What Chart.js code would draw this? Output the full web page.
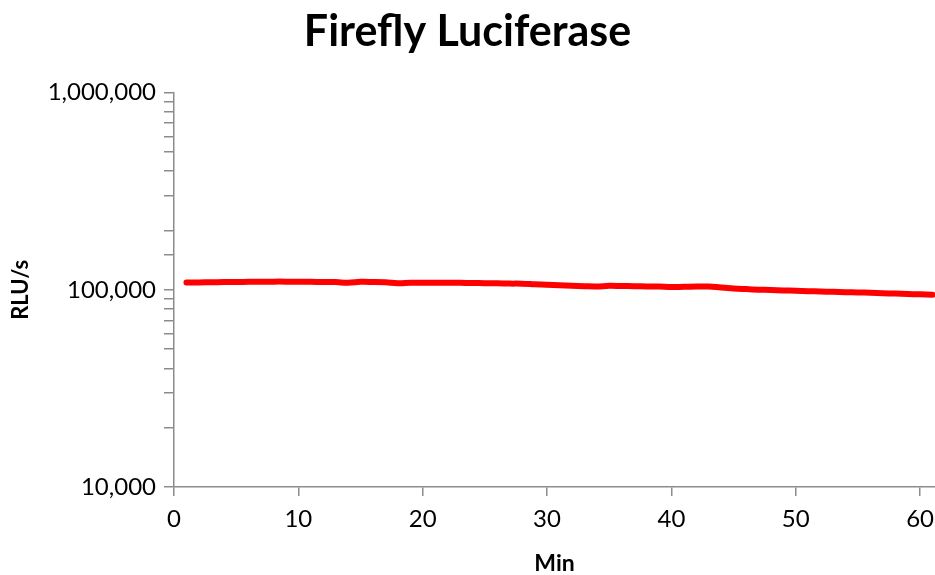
<!DOCTYPE html>
<html>
<head>
<meta charset="utf-8">
<script src="https://cdn.jsdelivr.net/npm/chart.js@4.4.1/dist/chart.umd.min.js"></script>
<style>
  html, body { margin: 0; padding: 0; background: #ffffff; }
  #wrap { width: 935px; height: 575px; }
</style>
</head>
<body>
<div id="wrap"><canvas id="c" width="935" height="575"></canvas></div>
<script>
// Data
const minutes = [];
for (let m = 1; m <= 61; m++) minutes.push(m);
const rluPerSec = [
  108900, 109000, 109200, 109400, 109500, 109700, 109800, 110000, 110000, 109800,
  109700, 109600, 109400, 108600, 109700, 109600, 109200, 108100, 108600, 108700,
  108700, 108600, 108500, 108300, 108000, 107800, 107500, 107400, 106700, 106000,
  105400, 104800, 104300, 104000, 104700, 104500, 104300, 104000, 103800, 103300,
  103500, 103800, 104000, 102600, 101500, 100800, 100200, 99700, 99300, 98800,
  98400, 98000, 97700, 97300, 96900, 96600, 96100, 95700, 95200, 94800,
  94300
];
const xTickValues = [0, 10, 20, 30, 40, 50, 60];
const yTickValues = [10000, 100000, 1000000];
const chartTitle = 'Firefly Luciferase';
const xTitle = 'Min';
const yTitle = 'RLU/s';

const axisGray = '#8c8c8c';
const textColor = '#000000';
const FONT = 'Lato';

const points = minutes.map((m, i) => ({ x: m, y: rluPerSec[i] }));

new Chart(document.getElementById('c'), {
  type: 'line',
  data: {
    datasets: [{
      data: points,
      borderColor: '#ff0000',
      borderWidth: 6,
      borderCapStyle: 'round',
      borderJoinStyle: 'round',
      pointRadius: 0,
      tension: 0.4,
      fill: false
    }]
  },
  options: {
    responsive: false,
    animation: false,
    layout: { padding: { top: 0, right: 0, bottom: 0, left: 0 } },
    plugins: {
      legend: { display: false },
      tooltip: { enabled: false },
      title: {
        display: true,
        text: chartTitle,
        color: textColor,
        font: { family: FONT, size: 43, weight: 'bold', lineHeight: 1.2 },
        padding: { top: 6, bottom: 35 }
      }
    },
    scales: {
      x: {
        type: 'linear',
        min: 0,
        max: 61.2,
        afterBuildTicks: (s) => { s.ticks = xTickValues.map(v => ({ value: v })); },
        afterFit: (s) => { s.height = 88; s.paddingRight = 0; s.paddingLeft = 0; },
        border: { display: true, color: axisGray, width: 1.5 },
        grid: { display: true, drawOnChartArea: false, drawTicks: true, tickLength: 9, color: axisGray, lineWidth: 1.5 },
        ticks: {
          color: textColor,
          font: { family: FONT, size: 24 },
          padding: 9,
          maxRotation: 0,
          autoSkip: false,
          callback: (v) => String(v)
        },
        title: {
          display: true,
          text: xTitle,
          color: textColor,
          font: { family: FONT, size: 23, weight: 'bold', lineHeight: 1.0 },
          padding: { top: 0, bottom: 0 }
        }
      },
      y: {
        type: 'logarithmic',
        min: 10000,
        max: 1000000,
        afterFit: (s) => { s.width = 174; },
        border: { display: true, color: axisGray, width: 1.5 },
        grid: { display: true, drawOnChartArea: false, drawTicks: true, tickLength: 10, color: axisGray, lineWidth: 1.5 },
        ticks: {
          color: textColor,
          font: { family: FONT, size: 24 },
          padding: 8,
          autoSkip: false,
          callback: (v) => yTickValues.includes(v) ? v.toLocaleString('en-US') : ''
        },
        title: {
          display: true,
          text: yTitle,
          color: textColor,
          font: { family: FONT, size: 22, weight: 'bold', lineHeight: 1.2 },
          padding: { top: 8, bottom: 0 }
        }
      }
    }
  }
});
</script>
</body>
</html>
